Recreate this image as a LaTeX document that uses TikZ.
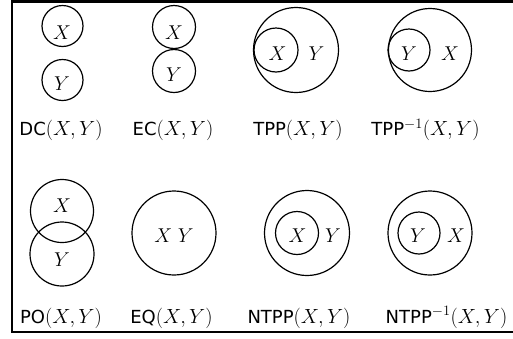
\RequirePackage{fix-cm}
\documentclass[tikz,border=0pt]{standalone}
\usepackage{fontspec}
\setsansfont{DejaVu Sans}
\begin{document}
\begin{tikzpicture}[x=1pt,y=-1pt,
  reg/.style={circle,draw,line width=1.2pt,inner sep=0pt},
  lab/.style={inner sep=0pt,anchor=base,font=\fontsize{18}{22}\selectfont\sffamily},
  sym/.style={inner sep=0pt,font=\fontsize{20}{24}\selectfont}]
\useasboundingbox (0,0) rectangle (513,338);
\clip (0,0) rectangle (513,338);
\fill[white] (0,0) rectangle (513,338);
% frame
\coordinate (ftr) at (530,1.5);
\coordinate (ftl) at (12,1.5);
\coordinate (fbl) at (12,332);
\coordinate (fbr) at (530,332);
\draw[line width=2.4pt] (ftr) -- (ftl) -- (fbl) -- (fbr);
% DC
\node[reg,minimum size=41pt] (dcx) at (62.5,26) {};
\node[reg,minimum size=41pt] (dcy) at (62.5,80) {};
\node[sym] (dcxt) at (62,33) {$X$};
\node[sym] (dcyt) at (62,84) {$Y$};
\node[lab] (dcl) at (61,135.7) {DC{\fontsize{20.5}{24}\selectfont$(X,Y)$}};
% EC
\node[reg,minimum size=43pt] (ecx) at (174,27) {};
\node[reg,minimum size=43pt] (ecy) at (174,71) {};
\node[sym] (ecxt) at (174,32.5) {$X$};
\node[sym] (ecyt) at (174,75) {$Y$};
\node[lab] (ecl) at (173,135.7) {EC{\fontsize{20.5}{24}\selectfont$(X,Y)$}};
% TPP
\node[reg,minimum size=85pt] (tppy) at (296,50) {};
\node[reg,minimum size=44pt] (tppx) at (276,50) {};
\node[sym] (tppxt) at (277.5,54) {$X$};
\node[sym] (tppyt) at (316.5,54) {$Y$};
\node[lab] (tppl) at (298,135.7) {TPP{\fontsize{20.5}{24}\selectfont$(X,Y)$}};
% TPP^-1
\node[reg,minimum size=83pt] (tpix) at (430,50) {};
\node[reg,minimum size=42pt] (tpiy) at (409,50) {};
\node[sym] (tpiyt) at (409,54) {$Y$};
\node[sym] (tpixt) at (450,54) {$X$};
\node[lab] (tpil) at (425.5,135.7) {TPP{\fontsize{20.5}{24}\selectfont$^{-1}(X,Y)$}};
% PO
\node[reg,minimum size=63pt] (pox) at (62,211) {};
\node[reg,minimum size=64pt] (poy) at (62,254) {};
\node[sym] (poxt) at (62,206) {$X$};
\node[sym] (poyt) at (62,260) {$Y$};
\node[lab] (pol) at (61,323) {PO{\fontsize{20.5}{24}\selectfont$(X,Y)$}};
% EQ
\node[reg,minimum size=84pt] (eqc) at (174,233) {};
\node[sym] (eqt) at (174,236) {$X\;Y$};
\node[lab] (eql) at (171.5,323) {EQ{\fontsize{20.5}{24}\selectfont$(X,Y)$}};
% NTPP
\node[reg,minimum size=85pt] (ntpy) at (307,233) {};
\node[reg,minimum size=43pt] (ntpx) at (297,233) {};
\node[sym] (ntpxt) at (297.5,235.5) {$X$};
\node[sym] (ntpyt) at (333,235.5) {$Y$};
\node[lab] (ntpl) at (299,323) {NTPP{\fontsize{20.5}{24}\selectfont$(X,Y)$}};
% NTPP^-1
\node[reg,minimum size=84pt] (ntix) at (430,233) {};
\node[reg,minimum size=42pt] (ntiy) at (419,233) {};
\node[sym] (ntiyt) at (418,235.5) {$Y$};
\node[sym] (ntixt) at (456,235.5) {$X$};
\node[lab] (ntil) at (446.5,323) {NTPP{\fontsize{20.5}{24}\selectfont$^{-1}(X,Y)$}};
\end{tikzpicture}
\end{document}
